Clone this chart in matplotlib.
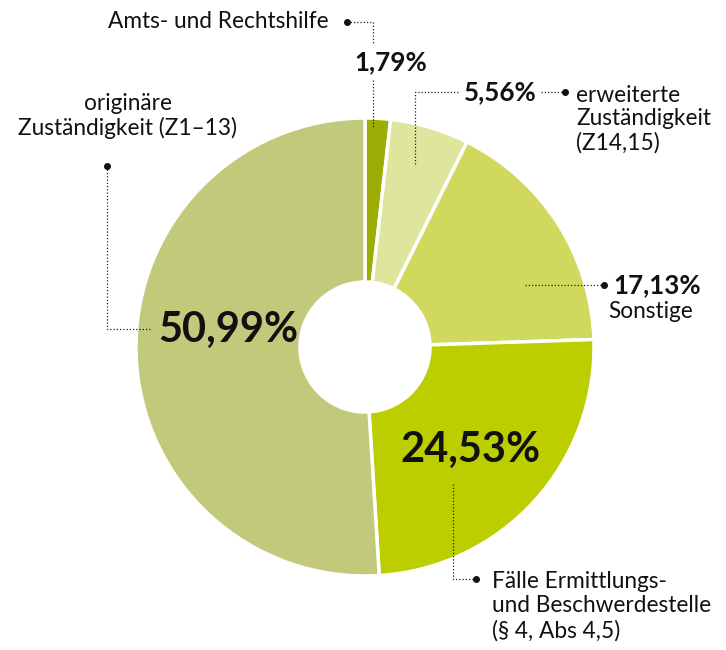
import matplotlib
matplotlib.use("Agg")
import matplotlib.pyplot as plt

# Anteile der Fälle (im Uhrzeigersinn ab 12 Uhr)
kategorien = ["Amts- und Rechtshilfe", "erweiterte Zuständigkeit (Z14,15)", "Sonstige",
              "Fälle Ermittlungs- und Beschwerdestelle (§ 4, Abs 4,5)", "originäre Zuständigkeit (Z1–13)"]
anteile = [1.79, 5.56, 17.13, 24.53, 50.99]
prozent_texte = ["1,79%", "5,56%", "17,13%", "24,53%", "50,99%"]
farben = ["#9cad05", "#dfe59d", "#d0d95e", "#bccd00", "#c2c97b"]

plt.rcParams['font.family'] = ['Lato', 'DejaVu Sans']

H = 650
fig = plt.figure(figsize=(7.26, 6.5), dpi=100)
ax = fig.add_axes([0, 0, 1, 1])

cx, cy, r = 365, H - 347, 229
ax.pie(anteile, colors=farben, startangle=90, counterclock=False,
       center=(cx, cy), radius=r, frame=True,
       wedgeprops=dict(width=r - 65, edgecolor='white', linewidth=2.5))
ax.set_xlim(0, 726)
ax.set_ylim(0, H)
ax.set_aspect('equal')
ax.axis('off')


def y(v):
    return H - v


dot = dict(color='#222222', linewidth=0.9, linestyle=(0, (1, 1.6)))


def punkt(xp, yp):
    ax.plot([xp], [y(yp)], 'o', color='#111111', markersize=4)


txt = '#111111'
klein = 16.3
mittel = 18.7
gross = 30

# Amts- und Rechtshilfe
ax.text(329, y(22), kategorien[0], ha='right', va='center', fontsize=klein, color=txt)
punkt(347, 22)
ax.plot([347, 373, 373], [y(22), y(22), y(44)], **dot)
ax.plot([373, 373], [y(80), y(128)], **dot)
ax.text(391, y(62), prozent_texte[0], ha='center', va='center', fontsize=mittel,
        fontweight='bold', color=txt)

# erweiterte Zuständigkeit
ax.plot([415, 415, 460], [y(164), y(92), y(92)], **dot)
ax.text(500, y(92), prozent_texte[1], ha='center', va='center', fontsize=mittel,
        fontweight='bold', color=txt)
ax.plot([541, 565], [y(92), y(92)], **dot)
punkt(565, 92)
ax.text(576, y(119), "erweiterte\nZuständigkeit\n(Z14,15)", ha='left', va='center',
        fontsize=klein, color=txt, linespacing=1.15)

# Sonstige
ax.plot([525, 603], [y(285), y(285)], **dot)
punkt(604, 285)
ax.text(613, y(285), prozent_texte[2], ha='left', va='center', fontsize=mittel,
        fontweight='bold', color=txt)
ax.text(608, y(311), kategorien[2], ha='left', va='center', fontsize=klein, color=txt)

# Ermittlungs- und Beschwerdestelle
ax.text(470, y(450), prozent_texte[3], ha='center', va='center', fontsize=gross,
        fontweight='bold', color=txt)
ax.plot([453, 453, 476], [y(484), y(579), y(579)], **dot)
punkt(476, 579)
ax.text(492, y(606), "Fälle Ermittlungs-\nund Beschwerdestelle\n(§ 4, Abs 4,5)",
        ha='left', va='center', fontsize=klein, color=txt, linespacing=1.2)

# originäre Zuständigkeit
ax.text(228, y(330), prozent_texte[4], ha='center', va='center', fontsize=gross,
        fontweight='bold', color=txt)
ax.plot([150, 107, 107], [y(329), y(329), y(166)], **dot)
punkt(107, 166)
ax.text(128, y(116), "originäre\nZuständigkeit (Z1–13)", ha='center', va='center',
        fontsize=klein, color=txt, linespacing=1.2)

fig.savefig("out.png", dpi=100)
